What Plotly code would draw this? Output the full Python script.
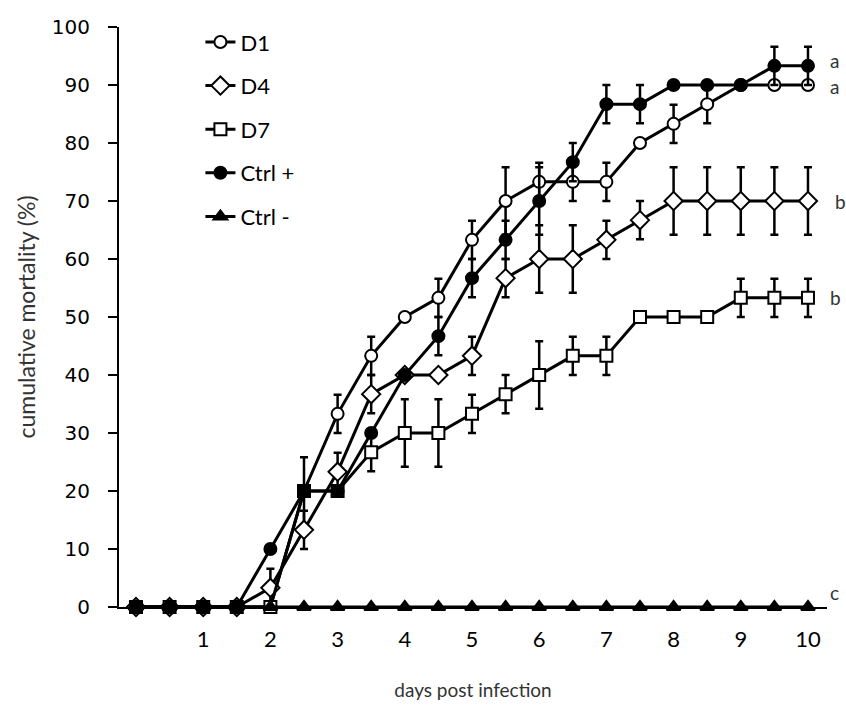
import plotly.graph_objects as go

days = [0, 0.5, 1, 1.5, 2, 2.5, 3, 3.5, 4, 4.5, 5, 5.5, 6, 6.5, 7, 7.5, 8, 8.5, 9, 9.5, 10]

d1 = [0, 0, 0, 0, 0, 20, 33.3, 43.3, 50, 53.3, 63.3, 70, 73.3, 73.3, 73.3, 80, 83.3, 86.7, 90, 90, 90]
d1_err = [0, 0, 0, 0, 0, 5.8, 3.3, 3.3, 0, 3.3, 3.3, 5.8, 3.3, 3.3, 3.3, 0, 3.3, 3.3, 0, 0, 0]

d4 = [0, 0, 0, 0, 3.3, 13.3, 23.3, 36.7, 40, 40, 43.3, 56.7, 60, 60, 63.3, 66.7, 70, 70, 70, 70, 70]
d4_err = [0, 0, 0, 0, 3.3, 3.3, 3.3, 3.3, 0, 0, 3.3, 3.3, 5.8, 5.8, 3.3, 3.3, 5.8, 5.8, 5.8, 5.8, 5.8]

d7 = [0, 0, 0, 0, 0, 20, 20, 26.7, 30, 30, 33.3, 36.7, 40, 43.3, 43.3, 50, 50, 50, 53.3, 53.3, 53.3]
d7_err = [0, 0, 0, 0, 0, 0, 0, 3.3, 5.8, 5.8, 3.3, 3.3, 5.8, 3.3, 3.3, 0, 0, 0, 3.3, 3.3, 3.3]

ctrl_pos = [0, 0, 0, 0, 10, 20, 20, 30, 40, 46.7, 56.7, 63.3, 70, 76.7, 86.7, 86.7, 90, 90, 90, 93.3, 93.3]
ctrl_pos_err = [0, 0, 0, 0, 0, 0, 0, 0, 0, 3.3, 3.3, 3.3, 5.8, 3.3, 3.3, 3.3, 0, 0, 0, 3.3, 3.3]

ctrl_neg = [0] * 21

series_names = ["D1", "D4", "D7", "Ctrl +", "Ctrl -"]
x_ticks = [1, 2, 3, 4, 5, 6, 7, 8, 9, 10]
y_ticks = [0, 10, 20, 30, 40, 50, 60, 70, 80, 90, 100]

letters = ["a", "a", "b", "b", "c"]
letter_y = [94.3, 89.8, 70, 53.3, 2.5]
letter_x = [10.3, 10.3, 10.37, 10.3, 10.3]

X_RANGE = [-0.253, 10.283]

series = [
    (d1, d1_err, "circle", "white"),
    (d4, d4_err, "diamond", "white"),
    (d7, d7_err, "square", "white"),
    (ctrl_pos, ctrl_pos_err, "circle", "black"),
    (ctrl_neg, None, "triangle-up", "black"),
]

FONT = "Lato, Open Sans, sans-serif"

fig = go.Figure()
for i, (vals, err, sym, fill) in enumerate(series):
    msize = 14 if sym == "diamond" else 12
    fig.add_trace(go.Scatter(
        x=days, y=vals, name=series_names[i], mode="lines+markers",
        legendgroup=f"g{i}",
        line=dict(color="black", width=3),
        marker=dict(symbol=sym, size=msize, color=fill,
                    line=dict(color="black", width=2)),
        error_y=(dict(type="data", array=err, visible=True, color="black",
                      thickness=2.5, width=4) if err is not None else None),
        cliponaxis=False,
    ))

span = X_RANGE[1] - X_RANGE[0]
for t, xx, yy in zip(letters, letter_x, letter_y):
    fig.add_annotation(x=(xx - X_RANGE[0]) / span, xref="paper", y=yy, yref="y",
                       text=t, showarrow=False, xanchor="left",
                       font=dict(family=FONT, size=19, color="#333333"))

fig.update_layout(
    width=846, height=713,
    margin=dict(l=119, r=19, t=27, b=106),
    plot_bgcolor="white", paper_bgcolor="white",
    showlegend=True,
    legend=dict(x=0.115, y=1.01, xanchor="left", yanchor="top",
                font=dict(family=FONT, size=22, color="black"),
                bgcolor="rgba(0,0,0,0)", tracegroupgap=12, itemwidth=30),
    xaxis=dict(range=X_RANGE, tickvals=x_ticks, ticktext=[str(v) for v in x_ticks],
               showgrid=False, zeroline=False, showline=True, linecolor="black", linewidth=2,
               ticks="", ticklabelstandoff=12,
               tickfont=dict(family=FONT, size=22, color="black"),
               title=dict(text="days post infection", standoff=32,
                          font=dict(family=FONT, size=19, color="#333333"))),
    yaxis=dict(range=[0, 100], tickvals=y_ticks, showgrid=False, zeroline=False,
               showline=True, linecolor="black", linewidth=2, ticks="outside", ticklen=9,
               tickwidth=2, tickcolor="black", ticklabelstandoff=14,
               tickfont=dict(family="DejaVu Sans, sans-serif", size=20, color="black"),
               title=dict(text="cumulative mortality (%)", standoff=10,
                          font=dict(family=FONT, size=23, color="#333333"))),
)

fig.write_html(
    "out.html",
    default_width="846px",
    default_height="713px",
    config={"displayModeBar": False},
    post_script="document.body.style.margin='0';document.body.style.overflow='hidden';",
)
